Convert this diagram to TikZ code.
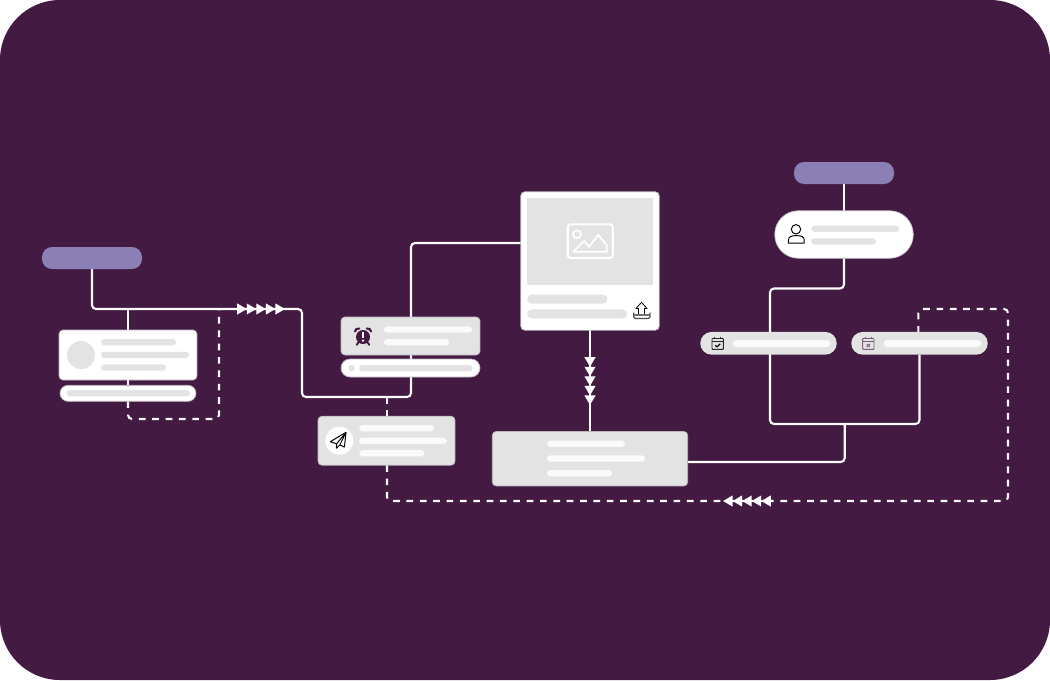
\documentclass[tikz,border=0pt]{standalone}
\usepackage{xcolor}
\usepackage{tikz}
\usetikzlibrary{arrows.meta}

\definecolor{plum}{HTML}{431A42}
\definecolor{lilac}{HTML}{8A80B5}
\definecolor{paleGrey}{HTML}{E3E3E3}
\definecolor{paleWhite}{HTML}{FAFAFA}
\definecolor{edgeGrey}{HTML}{BFB8BF}
\definecolor{calMauve}{HTML}{7A5B7E}

\pgfdeclarelayer{back}
\pgfdeclarelayer{lines}
\pgfsetlayers{back,lines,main}

\begin{document}
\begin{tikzpicture}[
    x=0.02cm, y=-0.02cm,
    every node/.style={inner sep=0pt, outer sep=0pt},
    label pill/.style={rectangle, rounded corners=0.2cm, minimum width=2cm, minimum height=0.44cm, fill=lilac},
    white card/.style={rectangle, rounded corners=0.08cm, draw=edgeGrey, line width=0.4pt, fill=white},
    grey card/.style={rectangle, rounded corners=0.08cm, draw=edgeGrey, line width=0.4pt, fill=paleGrey},
    grey bar/.style={rectangle, rounded corners=0.063cm, minimum height=0.126cm, fill=paleGrey},
    white bar/.style={rectangle, rounded corners=0.063cm, minimum height=0.126cm, fill=paleWhite},
    link/.style={draw=white, line width=1.2pt, rounded corners=0.08cm},
    dashed link/.style={link, dash pattern=on 3.8pt off 3.8pt},
    tips/.style={draw=white, line width=1.2pt, >={Triangle[length=5.44pt,width=6pt,sep=0pt]}, ->>>>>},
    icon/.style={draw=black, line width=0.55pt, line join=round}
]

% Background
\begin{pgfonlayer}{back}
\fill[plum, rounded corners=1.2cm] (0,0) rectangle (1050,680);
\end{pgfonlayer}

% Left group
\node (startA) [label pill] at (92,258) {};
\node (profile) [white card, minimum width=2.76cm, minimum height=1cm] at (128,355) {};
\node (avatar) [circle, fill=paleGrey, minimum size=0.56cm] at (81,355) {};
\node (profileA) [grey bar, minimum width=1.5cm] at (138.5,342.2) {};
\node (profileB) [grey bar, minimum width=1.76cm] at (145,354.9) {};
\node (profileC) [grey bar, minimum width=1.3cm] at (133.5,367.5) {};
\node (strip) [white card, rounded corners=0.16cm, minimum width=2.72cm, minimum height=0.32cm] at (128,393.3) {};
\node (stripA) [grey bar, minimum width=2.466cm] at (128.3,393.2) {};

% Middle group
\node (alarm) [grey card, minimum width=2.78cm, minimum height=0.76cm] at (410.5,336) {};
\node (alarmA) [white bar, minimum width=1.76cm] at (428,329.5) {};
\node (alarmB) [white bar, minimum width=1.3cm] at (416.5,342.3) {};
\node (slider) [white card, rounded corners=0.18cm, minimum width=2.78cm, minimum height=0.36cm] at (410.5,368) {};
\node (sliderDot) [circle, fill=paleGrey, minimum size=0.132cm] at (351.7,368) {};
\node (sliderA) [grey bar, minimum width=2.274cm] at (415.8,368.2) {};
\node (send) [grey card, minimum width=2.74cm, minimum height=0.98cm] at (386.5,440.7) {};
\node (sendDisc) [circle, fill=white, minimum size=0.56cm] at (339.3,440.7) {};
\node (sendA) [white bar, minimum width=1.5cm] at (396.7,428.2) {};
\node (sendB) [white bar, minimum width=1.76cm] at (403,440.8) {};
\node (sendC) [white bar, minimum width=1.3cm] at (391.7,453.3) {};

% Picture card
\node (photo) [white card, minimum width=2.77cm, minimum height=2.77cm] at (590,261) {};
\node (photoIn) [rectangle, fill=paleGrey, minimum width=2.52cm, minimum height=1.74cm] at (590,241.2) {};
\node (photoA) [grey bar, rounded corners=0.09cm, minimum width=1.606cm, minimum height=0.18cm] at (567.2,299.2) {};
\node (photoB) [grey bar, rounded corners=0.09cm, minimum width=2cm, minimum height=0.18cm] at (577,313.8) {};
\node (result) [grey card, minimum width=3.91cm, minimum height=1.09cm] at (590,458.7) {};
\node (resultA) [white bar, minimum width=1.56cm] at (586,443.8) {};
\node (resultB) [white bar, minimum width=1.96cm] at (596,458.5) {};
\node (resultC) [white bar, minimum width=1.3cm] at (579.5,473.2) {};

% Right group
\node (startB) [label pill] at (844,173) {};
\node (person) [white card, rounded corners=0.47cm, minimum width=2.77cm, minimum height=0.95cm] at (844,234.5) {};
\node (personA) [grey bar, minimum width=1.754cm] at (855.2,228.8) {};
\node (personB) [grey bar, minimum width=1.3cm] at (843.5,241.5) {};
\node (dateYes) [grey card, draw=none, rounded corners=0.227cm, minimum width=2.73cm, minimum height=0.454cm] at (768.5,343.3) {};
\node (dateYesA) [white bar, rounded corners=0.07cm, minimum width=1.952cm, minimum height=0.14cm] at (781.5,343.5) {};
\node (dateNo) [grey card, draw=none, rounded corners=0.227cm, minimum width=2.73cm, minimum height=0.454cm] at (919.5,343.3) {};
\node (dateNoA) [white bar, rounded corners=0.07cm, minimum width=1.952cm, minimum height=0.14cm] at (932.5,343.5) {};

% Turning points
\coordinate (mainTurnA) at (302,309);
\coordinate (mainTurnB) at (302,397);
\coordinate (mainTurnC) at (411,397);
\coordinate (mainTurnD) at (411,243);
\coordinate (mainEnd) at (521,243);
\coordinate (branchA) at (128,309);
\coordinate (branchB) at (219,309);
\coordinate (dashA) at (128,419);
\coordinate (dashB) at (219,419);
\coordinate (sendTop) at (387,397);
\coordinate (sendLow) at (387,501);
\coordinate (farA) at (1008,501);
\coordinate (farB) at (1008,309);
\coordinate (farC) at (918.3,309);
\coordinate (farEnd) at (918.3,332);
\coordinate (personTurnA) at (844,288.5);
\coordinate (personTurnB) at (770,288.5);
\coordinate (yokeA) at (770,424);
\coordinate (yokeB) at (919.5,424);
\coordinate (yokeMid) at (844.7,424);
\coordinate (yokeLow) at (844.7,462);
\coordinate (resultOut) at (688,462);

% Flow arrows
\begin{pgfonlayer}{lines}
\draw [link] (startA.south) |- (mainTurnA) -- (mainTurnB) -- (mainTurnC) -- (mainTurnD) -- (mainEnd);
\draw [link] (branchA) -- (profile.north);
\draw [link] (profile.south) -- (strip.north);
\draw [dashed link] (strip.south) -- (dashA) -- (dashB) -- (branchB);
\draw [tips] (237,309) -- (285,309);
\draw [dashed link] (sendTop) -- (send.north -| sendTop);
\draw [dashed link] (send.south -| sendTop) -- (sendLow) -- (farA) -- (farB) -- (farC) -- (farEnd);
\draw [tips] (772,501) -- (723,501);
\draw [link] (photo.south) -- (result.north);
\draw [tips] (590,357) -- (590,405);
\draw [link] (startB.south) -- (person.north);
\draw [link] (person.south) -- (personTurnA) -- (personTurnB) -- (yokeA) -- (yokeB) -- (dateNo.south -| yokeB);
\draw [link] (yokeMid) -- (yokeLow) -- (resultOut);
\end{pgfonlayer}

% Picture icon
\draw [white, line width=1.2pt, rounded corners=0.06cm] (567.7,224.3) rectangle (612.7,258);
\draw [white, line width=1pt] (577,234.3) circle [radius=4];
\draw [white, line width=1pt, line join=round] (573.3,251.7) -- (584,241) -- (589,246.7) -- (598.3,235) -- (606.7,245) -- (606.7,251.7) -- cycle;

% Upload icon
\draw [icon, line width=0.45pt] (641.5,302.3) -- (636,308.5) -- (638.5,308.5) -- (638.5,314.5) -- (644.5,314.5) -- (644.5,308.5) -- (647,308.5) -- cycle;
\draw [icon, draw=black!70, line width=0.7pt, rounded corners=0.03cm] (633.7,312.5) -- (633.7,318.4) -- (650,318.4) -- (650,312.5);
\draw [icon, draw=black!55, line width=0.7pt] (633.7,315) -- (650,315);

% Alarm icon
\fill [plum] (363,337) circle [radius=7];
\draw [plum, line width=1.1pt, line cap=round] (358.3,342.5) -- (356.8,344.8);
\draw [plum, line width=1.1pt, line cap=round] (367.7,342.5) -- (369.2,344.8);
\draw [plum, line width=1.2pt, line cap=round] (355,331.5) .. controls (355.2,329.3) and (357,328.3) .. (359.2,328.5);
\draw [plum, line width=1.2pt, line cap=round] (371,331.5) .. controls (370.8,329.3) and (369,328.3) .. (366.8,328.5);
\fill [white] (361.9,332) rectangle (364.1,338.3);
\fill [white] (363,340.5) circle [radius=1.25];

% Plane icon
\draw [icon] (346,432.3) -- (330.3,441.7) -- (336.6,443.8) -- (336.4,448.2) -- (339.8,445) -- (344.4,447) -- cycle;
\draw [icon] (336.6,443.8) -- (346,432.3) -- (339.8,445);

% Person icon
\draw [icon] (796,229.3) circle [radius=4.7];
\draw [icon] (788.4,243.2) -- (788.4,240.2) .. controls (788.4,236.8) and (791,235.6) .. (796.3,235.6) .. controls (801.6,235.6) and (804.2,236.8) .. (804.2,240.2) -- (804.2,243.2) -- cycle;

% Calendar icons
\draw [icon, draw=black!85, rounded corners=0.015cm] (712,338.5) rectangle (723.4,349.4);
\draw [icon, draw=black!85] (712,341.8) -- (723.4,341.8);
\draw [icon, draw=black!85] (714.8,336.6) -- (714.8,338.5);
\draw [icon, draw=black!85] (720.6,336.6) -- (720.6,338.5);
\draw [icon, line width=0.7pt] (715.2,345.3) -- (717,347) -- (720.3,343.8);
\draw [icon, draw=calMauve, rounded corners=0.015cm] (862.6,338.5) rectangle (874,349.4);
\draw [icon, draw=calMauve] (862.6,341.8) -- (874,341.8);
\draw [icon, draw=calMauve] (865.4,336.6) -- (865.4,338.5);
\draw [icon, draw=calMauve] (871.2,336.6) -- (871.2,338.5);
\draw [icon, draw=calMauve] (866.6,343.9) -- (870,347);
\draw [icon, draw=calMauve] (870,343.9) -- (866.6,347);

\end{tikzpicture}
\end{document}
